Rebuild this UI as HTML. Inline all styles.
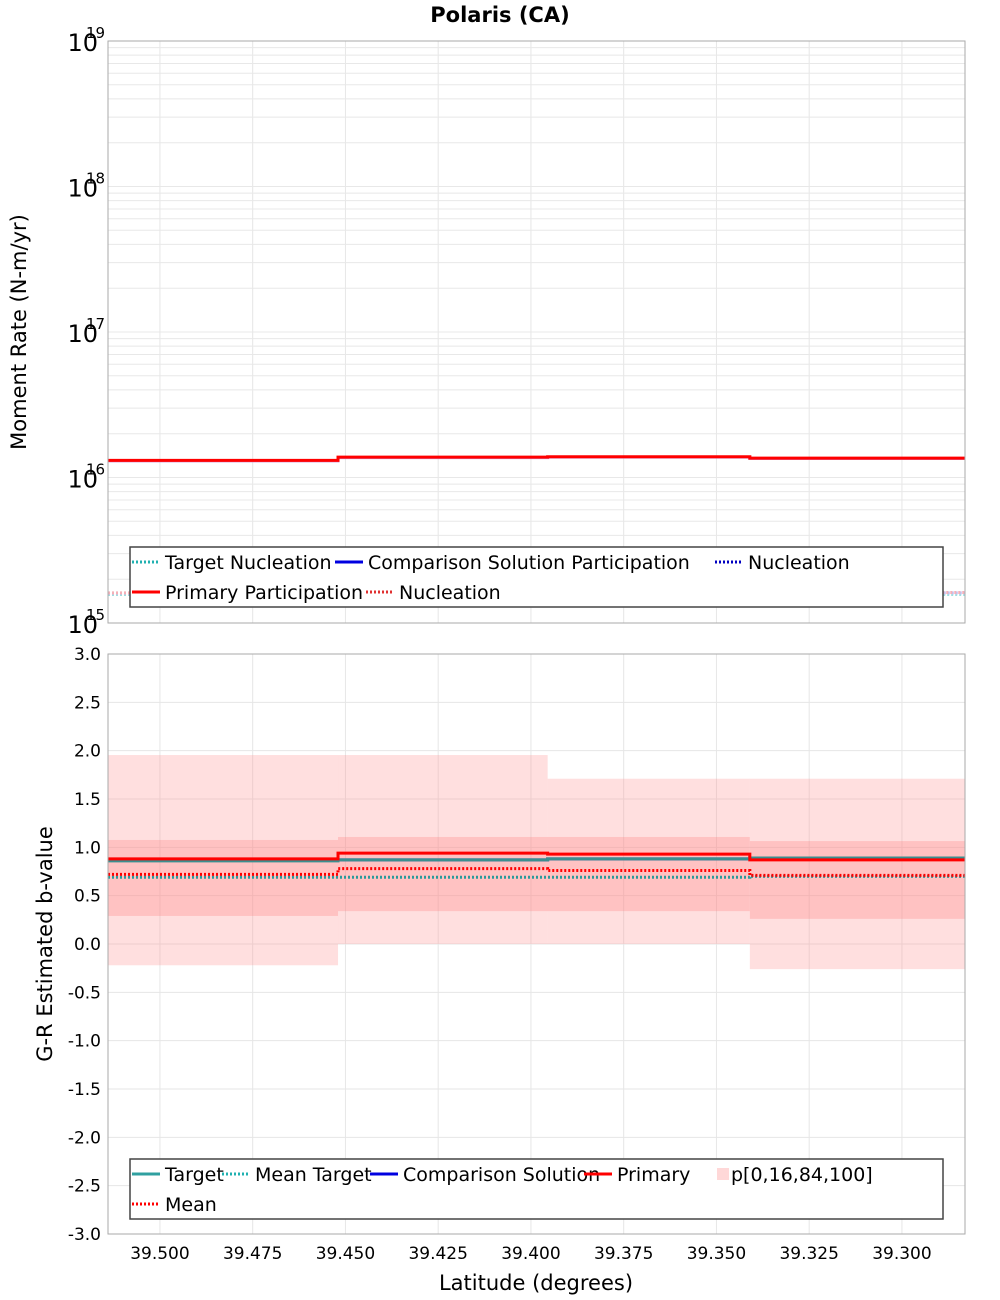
<!DOCTYPE html>
<html><head><meta charset="utf-8"><style>
body{margin:0;background:#fff;}
svg{display:block;font-family:"DejaVu Sans","Liberation Sans",sans-serif;}
</style></head><body>
<svg id="chart" width="1000" height="1300" viewBox="0 0 1000 1300" xmlns="http://www.w3.org/2000/svg">
<text x="500" y="22" text-anchor="middle" font-size="21" font-weight="bold">Polaris (CA)</text>
<g id="topPlot"></g>
<g id="botPlot"></g>
<text transform="translate(26,332) rotate(-90)" text-anchor="middle" font-size="21">Moment Rate (N-m/yr)</text>
<text transform="translate(52,944) rotate(-90)" text-anchor="middle" font-size="21">G-R Estimated b-value</text>
<text x="536" y="1290" text-anchor="middle" font-size="21">Latitude (degrees)</text>
</svg>
<script>
// data
const binEdges = [39.514, 39.452, 39.3955, 39.341, 39.283];
const xTicks = [39.5, 39.475, 39.45, 39.425, 39.4, 39.375, 39.35, 39.325, 39.3];
const xTickLabels = ["39.500","39.475","39.450","39.425","39.400","39.375","39.350","39.325","39.300"];
const primaryPart = [1.31e16, 1.38e16, 1.39e16, 1.36e16];
const comparisonPart = [1.30e16, 1.37e16, 1.38e16, 1.35e16];
const primaryNucl = [1.61e15, 1.69e15, 1.69e15, 1.62e15];
const comparisonNucl = [1.60e15, 1.66e15, 1.66e15, 1.61e15];
const targetNucl = [1.57e15, 1.58e15, 1.58e15, 1.57e15];
const bTarget = [0.86, 0.87, 0.88, 0.89];
const bMeanTarget = [0.69, 0.69, 0.69, 0.70];
const bComparison = [0.87, 0.87, 0.88, 0.89];
const bPrimary = [0.88, 0.94, 0.93, 0.87];
const bMean = [0.72, 0.78, 0.76, 0.71];
const bP0 = [-0.22, 0.0, 0.0, -0.26];
const bP16 = [0.29, 0.34, 0.34, 0.26];
const bP84 = [1.076, 1.107, 1.107, 1.065];
const bP100 = [1.955, 1.955, 1.71, 1.71];
const bTicks = [3,2.5,2,1.5,1,0.5,0,-0.5,-1,-1.5,-2,-2.5,-3];

const NS="http://www.w3.org/2000/svg";
const L=108,R=965;
const xs=v=>L+(binEdges[0]-v)/(binEdges[0]-binEdges[4])*(R-L);
const T1=41,B1=623, yTop=v=>B1-(Math.log10(v)-15)/4*(B1-T1);
const T2=654,B2=1234, yBot=v=>T2+(3-v)/6*(B2-T2);
function mk(p,tag,at,txt){const e=document.createElementNS(NS,tag);for(const k in at)e.setAttribute(k,at[k]);if(txt!==undefined)e.textContent=txt;p.appendChild(e);return e;}
const gTop=document.getElementById('topPlot'), gBot=document.getElementById('botPlot');

// frames & grids
[[gTop,T1,B1],[gBot,T2,B2]].forEach(([g,t,b])=>{
  mk(g,'rect',{x:L,y:t,width:R-L,height:b-t,fill:'#fff',stroke:'none'});
  xTicks.forEach(v=>{const l=mk(g,'line',{x1:xs(v),x2:xs(v),y1:t,y2:b,stroke:'#e6e6e6'});
    
    });
});
for(let d=15;d<19;d++)for(let m=1;m<10;m++){const y=yTop(m*Math.pow(10,d));
  const l=mk(gTop,'line',{x1:L,x2:R,y1:y,y2:y,stroke:'#e8e8e8'});
  
  }
[15,16,17,18,19].forEach(d=>{const y=yTop(Math.pow(10,d));
  const t=mk(gTop,'text',{x:98,y:y+10,'text-anchor':'end','font-size':24},'10');
  
  
  const s=mk(gTop,'text',{x:86,y:y-3,'font-size':15},String(d));
  
  });
bTicks.forEach(v=>{const y=yBot(v);
  const l=mk(gBot,'line',{x1:L,x2:R,y1:y,y2:y,stroke:'#e6e6e6'});
  
  
  const t=mk(gBot,'text',{x:101,y:y+6,'text-anchor':'end','font-size':17},v.toFixed(1));
  
  });
xTicks.forEach((v,i)=>{const t=mk(gBot,'text',{x:xs(v),y:1259,'text-anchor':'middle','font-size':17},xTickLabels[i]);
  
  });

function steps(g,arr,ys,st,w,dash,name){
  let d='';arr.forEach((v,i)=>{const y=ys(v);d+=(i?'L':'M')+xs(binEdges[i])+','+y+'L'+xs(binEdges[i+1])+','+y;});
  const p=mk(g,'path',{d:d,fill:'none',stroke:st,'stroke-width':w});
  if(dash)p.setAttribute('stroke-dasharray',dash);
  
  
}
// bottom bands
for(let i=0;i<4;i++){
  const x1=xs(binEdges[i]),x2=xs(binEdges[i+1]);
  const o=mk(gBot,'rect',{x:x1,y:yBot(bP100[i]),width:x2-x1,height:yBot(bP0[i])-yBot(bP100[i]),fill:'rgba(255,150,150,0.3)'});
  
  
  const n=mk(gBot,'rect',{x:x1,y:yBot(bP84[i]),width:x2-x1,height:yBot(bP16[i])-yBot(bP84[i]),fill:'rgba(255,130,130,0.3)'});
  
  
}
steps(gBot,bMeanTarget,yBot,'#2a9a9a',3,'2,2','mean-target-line');
steps(gBot,bMean,yBot,'#ff0000',3,'2,2','mean-line');
steps(gBot,bComparison,yBot,'#2030c0',3,null,'comparison-line');
steps(gBot,bTarget,yBot,'#3a8f8f',3,null,'target-line');
steps(gBot,bPrimary,yBot,'#ff0000',3,null,'primary-line');
// top lines
steps(gTop,targetNucl,yTop,'#9ee0e0',3,'2,2','target-nucleation-line');
steps(gTop,comparisonNucl,yTop,'#c0c0f0',3,'2,2','comparison-nucleation-line');
steps(gTop,primaryNucl,yTop,'#f4b0b8',3,'2,2','primary-nucleation-line');
steps(gTop,comparisonPart,yTop,'#d090d0',3,null,'comparison-participation-line');
steps(gTop,primaryPart,yTop,'#ff0000',3,null,'primary-participation-line');
// frames
[[gTop,T1,B1],[gBot,T2,B2]].forEach(([g,t,b])=>{const f=mk(g,'rect',{x:L,y:t,width:R-L,height:b-t,fill:'none',stroke:'#aaa'});
  
  });

function legend(g,y0,items){
  const box=mk(g,'rect',{x:130,y:y0,width:813,height:60,fill:'#fff',stroke:'#444','stroke-width':1.5});
  
  
  items.forEach(it=>{const y=y0+15+it[1]*30;
    const l=mk(g,'line',{x1:it[0],x2:it[0]+28,y1:y,y2:y,stroke:it[3],'stroke-width':3});
    if(it[4]==='dot')l.setAttribute('stroke-dasharray','2,2');
    if(it[4]==='sq'){l.setAttribute('stroke-width',12);l.setAttribute('x2',it[0]+12);}
    
    
    const t=mk(g,'text',{x:it[0]+(it[4]==='sq'?14:33),y:y+7,'font-size':19},it[2]);
    
    });
}
legend(gTop,547,[[132,0,'Target Nucleation','#20b0b0','dot'],[335,0,'Comparison Solution Participation','#0000e0',''],[715,0,'Nucleation','#0000c0','dot'],[132,1,'Primary Participation','#ff0000',''],[366,1,'Nucleation','#e03030','dot']]);
legend(gBot,1159,[[132,0,'Target','#30a0a0',''],[222,0,'Mean Target','#20b0b0','dot'],[370,0,'Comparison Solution','#0000e0',''],[584,0,'Primary','#ff0000',''],[717,0,'p[0,16,84,100]','#ffd8d8','sq'],[132,1,'Mean','#ff0000','dot']]);
</script>
</body></html>
